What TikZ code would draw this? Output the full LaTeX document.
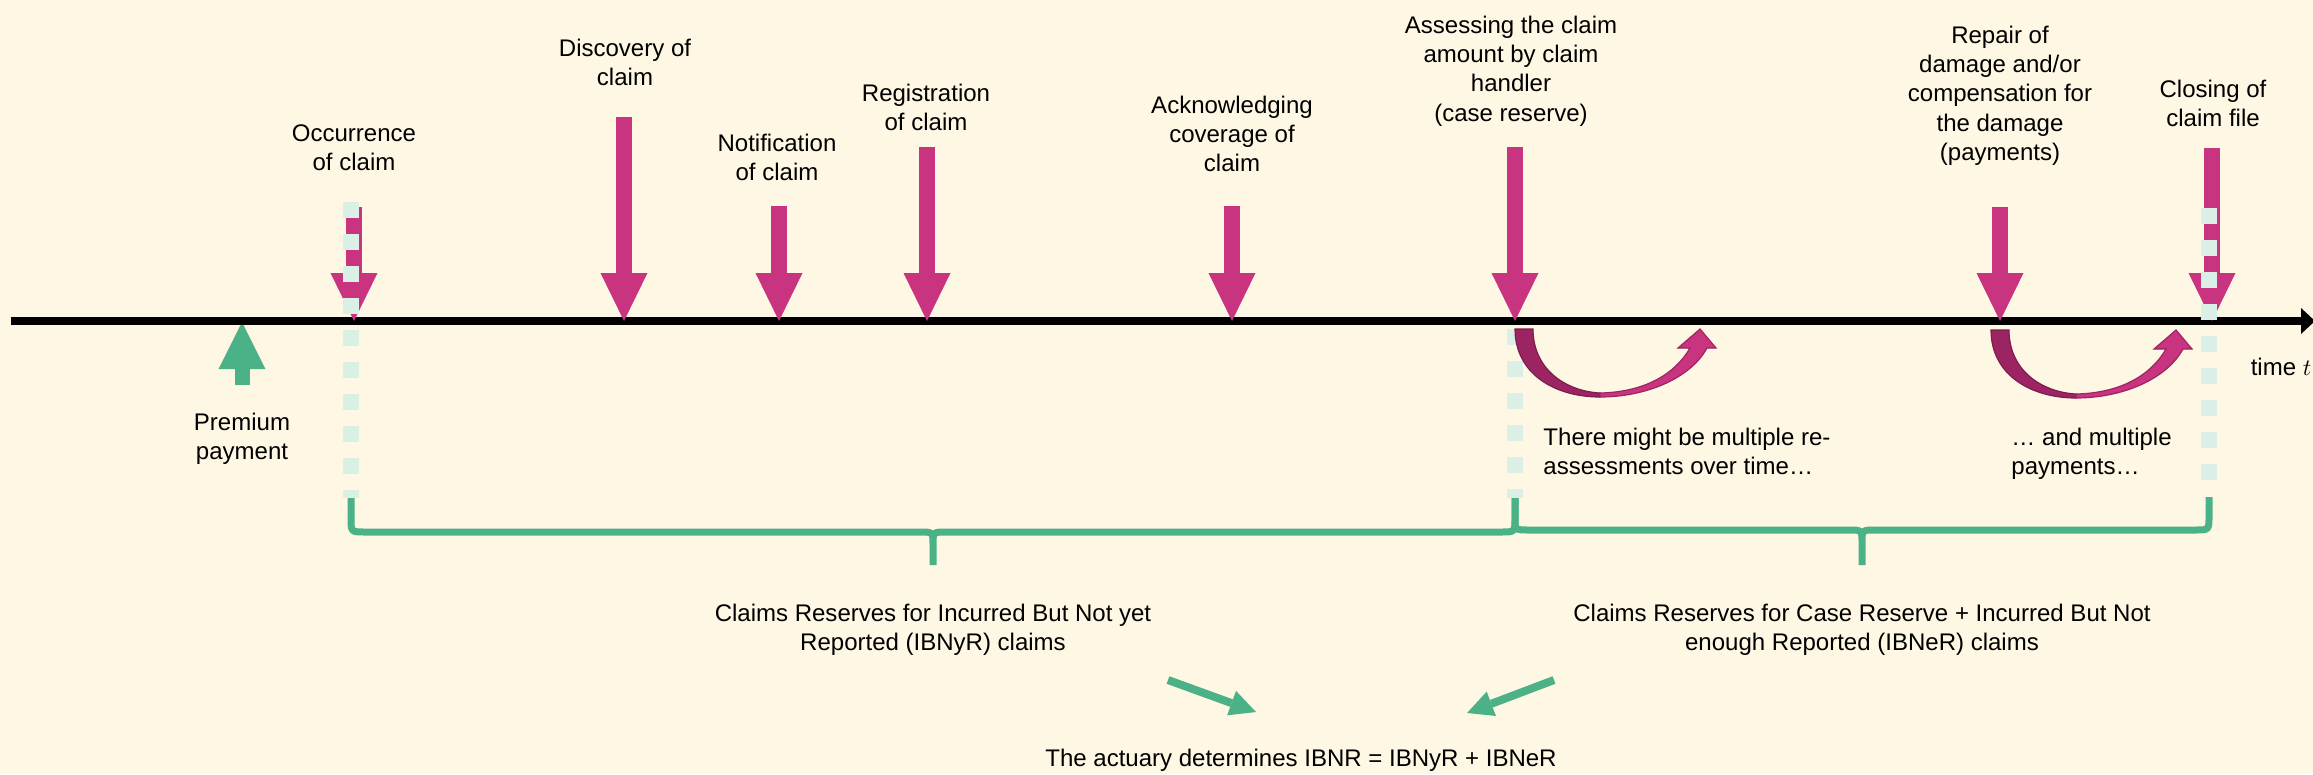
\documentclass[tikz,border=0pt]{standalone}
\usepackage{fontspec}
\setmainfont{Liberation Sans}
\usepackage{xcolor}
\usetikzlibrary{arrows.meta,positioning}
\definecolor{bgcream}{HTML}{FEF7E3}
\definecolor{claimpink}{HTML}{C8347F}
\definecolor{claimdark}{HTML}{9C2463}
\definecolor{resgreen}{HTML}{4BB287}
\definecolor{dashmint}{HTML}{DAEFE6}

\begin{document}
\begin{tikzpicture}[x=0.015cm,y=-0.015cm,
  lbl/.style={align=center,inner sep=0pt,anchor=north,font=\fontsize{10.25}{12.4}\selectfont},
  claimarrow/.style={claimpink,line width=0.24cm,-{Triangle[length=0.72cm,width=0.705cm,line width=0pt]}},
  premarrow/.style={resgreen,line width=0.225cm,-{Triangle[length=0.705cm,width=0.705cm,line width=0pt]}},
  greenarrow/.style={resgreen,line width=0.12cm,-{Triangle[length=0.39cm,width=0.39cm,line width=0pt]}},
  stage/.style={dashmint,line width=0.24cm,dash pattern=on 0.24cm off 0.24cm},
  resbrace/.style={resgreen,line width=0.105cm,line join=round}]
\useasboundingbox (0,0) rectangle (2313,774);
\fill[bgcream] (0,0) rectangle (2313,774);

% points on the time axis
\coordinate (t0) at (11,321);
\coordinate (tend) at (2315,321);
\coordinate (prem-t) at (242,322);
\coordinate (occ-t) at (354,321);
\coordinate (disc-t) at (624,321);
\coordinate (note-t) at (779,321);
\coordinate (reg-t) at (927,321);
\coordinate (ack-t) at (1232,321);
\coordinate (assess-t) at (1515,321);
\coordinate (repair-t) at (2000,321);
\coordinate (close-t) at (2212,321);

% arrow tails
\coordinate (prem-in) at (242,385);
\coordinate (occ-in) at (354,207);
\coordinate (disc-in) at (624,117);
\coordinate (note-in) at (779,206);
\coordinate (reg-in) at (927,147);
\coordinate (ack-in) at (1232,206);
\coordinate (assess-in) at (1515,147);
\coordinate (repair-in) at (2000,207);
\coordinate (close-in) at (2212,148);

% labels
\node[lbl] (prem) at (242,413) {Premium\\payment};
\node[lbl] (occ) at (354,124) {Occurrence\\of claim};
\node[lbl] (disc) at (625,39) {Discovery of\\claim};
\node[lbl] (note) at (777,134) {Notification\\of claim};
\node[lbl] (reg) at (926,84) {Registration\\of claim};
\node[lbl] (ack) at (1232,96) {Acknowledging\\coverage of\\claim};
\node[lbl] (assess) at (1511,16) {Assessing the claim\\amount by claim\\handler\\(case reserve)};
\node[lbl] (repair) at (2000,26) {Repair of\\damage and/or\\compensation for\\the damage\\(payments)};
\node[lbl] (close) at (2213,80) {Closing of\\claim file};
\node[lbl,anchor=center] (time) at (2281,367) {time $t$};

\draw[premarrow] (prem-in) -- (prem-t);
\draw[line width=0.12cm,-{Triangle[length=0.21cm,width=0.39cm,line width=0pt]}] (t0) -- (tend);

\draw[claimarrow] (occ-in) -- (occ-t);
\draw[claimarrow] (disc-in) -- (disc-t);
\draw[claimarrow] (note-in) -- (note-t);
\draw[claimarrow] (reg-in) -- (reg-t);
\draw[claimarrow] (ack-in) -- (ack-t);
\draw[claimarrow] (assess-in) -- (assess-t);
\draw[claimarrow] (repair-in) -- (repair-t);
\draw[claimarrow] (close-in) -- (close-t);

% stage markers
\coordinate (occ-s) at (351,202);
\coordinate (occ-b) at (351,498);
\coordinate (assess-s) at (1515,329);
\coordinate (assess-b) at (1515,498);
\coordinate (close-s) at (2209,208);
\coordinate (close-b) at (2209,490);
\draw[stage] (occ-s) -- (occ-b);
\draw[stage] (assess-s) -- (assess-b);
\draw[stage] (close-s) -- (close-b);

% re-assessments and payments
\begin{scope}[shift={(1515,329)}]
\filldraw[fill=claimdark,draw=claimdark!80!black,line width=0.5pt] (0,0) .. controls (0,45) and (40,68) .. (85,68) -- (85,64) .. controls (50,62) and (18,40) .. (18,0) -- cycle;
\filldraw[fill=claimpink,draw=claimdark,line width=0.5pt] (85,68) .. controls (130,68) and (175,50) .. (192,19) -- (201,19) -- (185,0) -- (163,19) -- (175,19) .. controls (160,45) and (130,63) .. (85,64) -- cycle;
\end{scope}
\begin{scope}[shift={(1991,330)}]
\filldraw[fill=claimdark,draw=claimdark!80!black,line width=0.5pt] (0,0) .. controls (0,45) and (40,68) .. (85,68) -- (85,64) .. controls (50,62) and (18,40) .. (18,0) -- cycle;
\filldraw[fill=claimpink,draw=claimdark,line width=0.5pt] (85,68) .. controls (130,68) and (175,50) .. (192,19) -- (201,19) -- (185,0) -- (163,19) -- (175,19) .. controls (160,45) and (130,63) .. (85,64) -- cycle;
\end{scope}
\node[lbl,anchor=north west,align=left] (reassess) at (1543,428) {There might be multiple re-\\assessments over time…};
\node[lbl,anchor=north west,align=left] (morepay) at (2011,428) {… and multiple\\payments…};

% reserve periods
\coordinate (ibnyr-tip) at (933,565);
\coordinate (ibner-tip) at (1862,565);
\draw[resbrace] (occ-b) -- (351,518) .. controls (351,532) .. (365,532) -- (920,532) .. controls (933,532) .. (933,545) .. controls (933,532) .. (946,532) -- (1501,532) .. controls (1515,532) .. (1515,518) -- (assess-b) (933,545) -- (ibnyr-tip);
\draw[resbrace] (assess-b) -- (1515,518) .. controls (1515,530) .. (1529,530) -- (1849,530) .. controls (1862,530) .. (1862,543) .. controls (1862,530) .. (1875,530) -- (2195,530) .. controls (2209,530) .. (2209,516) -- (2209,497) (1862,543) -- (ibner-tip);
\node[lbl] (ibnyr) at (933,604) {Claims Reserves for Incurred But Not yet\\Reported (IBNyR) claims};
\node[lbl] (ibner) at (1862,604) {Claims Reserves for Case Reserve + Incurred But Not\\enough Reported (IBNeR) claims};

\coordinate (ibnyr-out) at (1168,680);
\coordinate (ibner-out) at (1554,680);
\coordinate (actuary-l) at (1256,712);
\coordinate (actuary-r) at (1467,713);
\draw[greenarrow] (ibnyr-out) -- (actuary-l);
\draw[greenarrow] (ibner-out) -- (actuary-r);
\node[lbl] (actuary) at (1301,749) {The actuary determines IBNR = IBNyR + IBNeR};
\end{tikzpicture}
\end{document}
